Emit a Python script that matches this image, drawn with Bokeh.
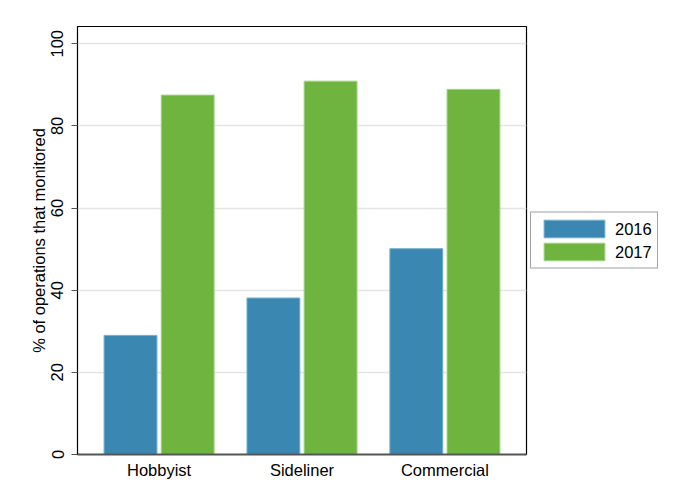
from bokeh.plotting import figure
from bokeh.models import ColumnDataSource, FactorRange, Range1d, Legend, LegendItem, FixedTicker
from bokeh.transform import dodge
from bokeh.embed import file_html
from bokeh.resources import INLINE

categories = ["Hobbyist", "Sideliner", "Commercial"]
years = ["2016", "2017"]
values_2016 = [29.0, 38.1, 50.1]
values_2017 = [87.5, 90.9, 88.9]
y_ticks = [0, 20, 40, 60, 80, 100]

colors = {"2016": "#3a88b1", "2017": "#6fb43f"}
edge_colors = {"2016": "#74aed0", "2017": "#a2d486"}
FONT = "Liberation Sans"

source = ColumnDataSource(dict(cat=categories, y2016=values_2016, y2017=values_2017))

p = figure(
    frame_width=449, frame_height=428,
    x_range=FactorRange(*categories, range_padding=0.071, range_padding_units="absolute"),
    y_range=Range1d(0, 104.2),
    output_backend="svg", toolbar_location=None,
    min_border_left=77, min_border_right=144, min_border_top=26, min_border_bottom=31,
)
p.background_fill_color = "white"
p.border_fill_color = "white"
p.outline_line_color = "black"
p.outline_line_width = 1.2

r1 = p.vbar(x=dodge("cat", -0.2, range=p.x_range), top="y2016", width=0.37, source=source,
            fill_color=colors["2016"], line_color=edge_colors["2016"], line_width=1)
r2 = p.vbar(x=dodge("cat", 0.2, range=p.x_range), top="y2017", width=0.37, source=source,
            fill_color=colors["2017"], line_color=edge_colors["2017"], line_width=1)

# axes
p.xaxis.major_tick_line_color = None
p.xaxis.minor_tick_line_color = None
p.xaxis.axis_line_color = "#555555"
p.xaxis.axis_line_width = 2
p.xaxis.major_label_text_font = FONT
p.xaxis.major_label_text_font_size = "16.5px"
p.xaxis.major_label_text_color = "black"
p.xaxis.major_label_standoff = 0

p.yaxis.ticker = FixedTicker(ticks=y_ticks)
p.yaxis.major_label_orientation = "vertical"
p.yaxis.major_label_text_font = FONT
p.yaxis.major_label_text_font_size = "16.5px"
p.yaxis.major_label_text_color = "black"
p.yaxis.major_tick_out = 6
p.yaxis.major_tick_in = 0
p.yaxis.major_tick_line_color = "#555555"
p.yaxis.minor_tick_line_color = None
p.yaxis.axis_line_color = "black"
p.yaxis.major_label_standoff = 8
p.yaxis.axis_label = "% of operations that monitored"
p.yaxis.axis_label_text_font = FONT
p.yaxis.axis_label_text_font_size = "16.5px"
p.yaxis.axis_label_text_font_style = "normal"
p.yaxis.axis_label_text_color = "black"
p.yaxis.axis_label_standoff = 1

p.xgrid.grid_line_color = None
p.ygrid.grid_line_color = "#e4e4e4"
p.ygrid.grid_line_width = 1.5
p.ygrid.ticker = FixedTicker(ticks=y_ticks[1:])

legend = Legend(items=[LegendItem(label=years[0], renderers=[r1]),
                       LegendItem(label=years[1], renderers=[r2])],
                location="center_left")
legend.label_text_font = FONT
legend.label_text_font_size = "16.5px"
legend.label_text_color = "black"
legend.glyph_width = 76
legend.glyph_height = 22
legend.label_standoff = 3
legend.spacing = 1
legend.padding = 5
legend.margin = 4
legend.border_line_color = "#444444"
legend.border_line_width = 1.5
legend.background_fill_alpha = 1
p.add_layout(legend, "right")

open("out.html", "w").write(file_html(p, INLINE))
